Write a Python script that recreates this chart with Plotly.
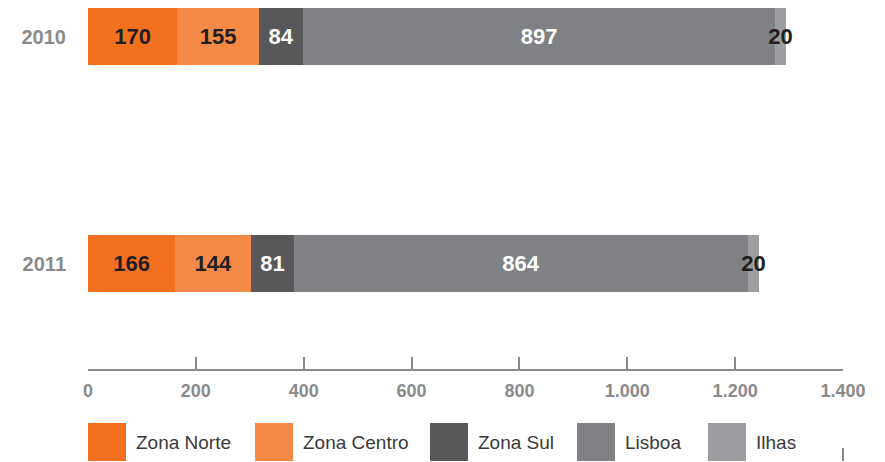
import plotly.graph_objects as go

years = ["2010", "2011"]
year_pos = [1, 0]
series = ["Zona Norte", "Zona Centro", "Zona Sul", "Lisboa", "Ilhas"]
values = {
    "Zona Norte": [170, 166],
    "Zona Centro": [155, 144],
    "Zona Sul": [84, 81],
    "Lisboa": [897, 864],
    "Ilhas": [20, 20],
}
colors = ["#f37021", "#f58a46", "#58585a", "#808184", "#9d9ea1"]
text_colors = ["#231f20", "#231f20", "#ffffff", "#ffffff", "#231f20"]
x_ticks = [0, 200, 400, 600, 800, 1000, 1200, 1400]

FONT = "Liberation Sans"

fig = go.Figure()
for name, col, tcol in zip(series, colors, text_colors):
    fig.add_trace(go.Bar(
        name=name, y=year_pos, x=values[name], orientation="h",
        marker=dict(color=col, line=dict(width=0)),
        width=0.251,
        text=values[name], textposition="inside", insidetextanchor="middle",
        constraintext="none",
        textfont=dict(family=FONT, size=22, color=tcol, weight="bold"),
        showlegend=False,
    ))

# invisible trace so the tick axis (x2) gets drawn
fig.add_trace(go.Scatter(
    x=[x_ticks[0], x_ticks[-1]], y=[year_pos[1], year_pos[1]], xaxis="x2",
    mode="markers", marker=dict(opacity=0), hoverinfo="skip", showlegend=False,
))

# page has an 8px body margin, so the figure is 8px smaller
# the original artwork draws bars on a slightly shorter scale than its axis
fig.update_layout(
    barmode="stack",
    width=877, height=454,
    margin=dict(l=80, r=42, t=0, b=93),
    paper_bgcolor="white", plot_bgcolor="white",
    separators=",.",
    xaxis=dict(
        range=[0, 1435], showticklabels=False, ticks="",
        showgrid=False, zeroline=False, showline=False,
    ),
    xaxis2=dict(
        overlaying="x", anchor="y", side="bottom",
        range=[0, 1400], tickvals=x_ticks, separatethousands=True,
        showgrid=False, zeroline=False,
        showline=True, linecolor="#8a8a8c", linewidth=2,
        ticks="inside", ticklen=12, tickwidth=2, tickcolor="#8a8a8c",
        tickfont=dict(family=FONT, size=18, color="#8a8a8c", weight="bold"),
        ticklabelstandoff=4,
    ),
    yaxis=dict(
        range=[-0.4648, 1.1256], tickvals=year_pos, ticktext=years,
        showgrid=False, zeroline=False, showline=False, ticks="",
        tickfont=dict(family=FONT, size=20, color="#8a8a8c", weight="bold"),
        ticklabelstandoff=21,
    ),
)

# custom legend with large swatches (positions in page px)
leg_x = [88, 255, 430, 577, 708]
for name, col, x0 in zip(series, colors, leg_x):
    fig.add_shape(type="rect", xref="paper", yref="paper",
                  x0=(x0 - 88) / 755, x1=(x0 + 38 - 88) / 755,
                  y0=(369 - 461) / 361, y1=(369 - 423) / 361,
                  fillcolor=col, line=dict(width=0))
    fig.add_annotation(xref="paper", yref="paper",
                       x=(x0 + 46 - 88) / 755, y=(369 - 442) / 361,
                       text=name, showarrow=False, xanchor="left", yanchor="middle",
                       font=dict(family=FONT, size=19, color="#3a3a3a"))

# stray tick mark at the lower right
fig.add_shape(type="line", xref="paper", yref="paper",
              x0=1, x1=1, y0=(369 - 461) / 361, y1=(369 - 448) / 361,
              line=dict(color="#8a8a8c", width=2))

fig.write_html("out.html")
